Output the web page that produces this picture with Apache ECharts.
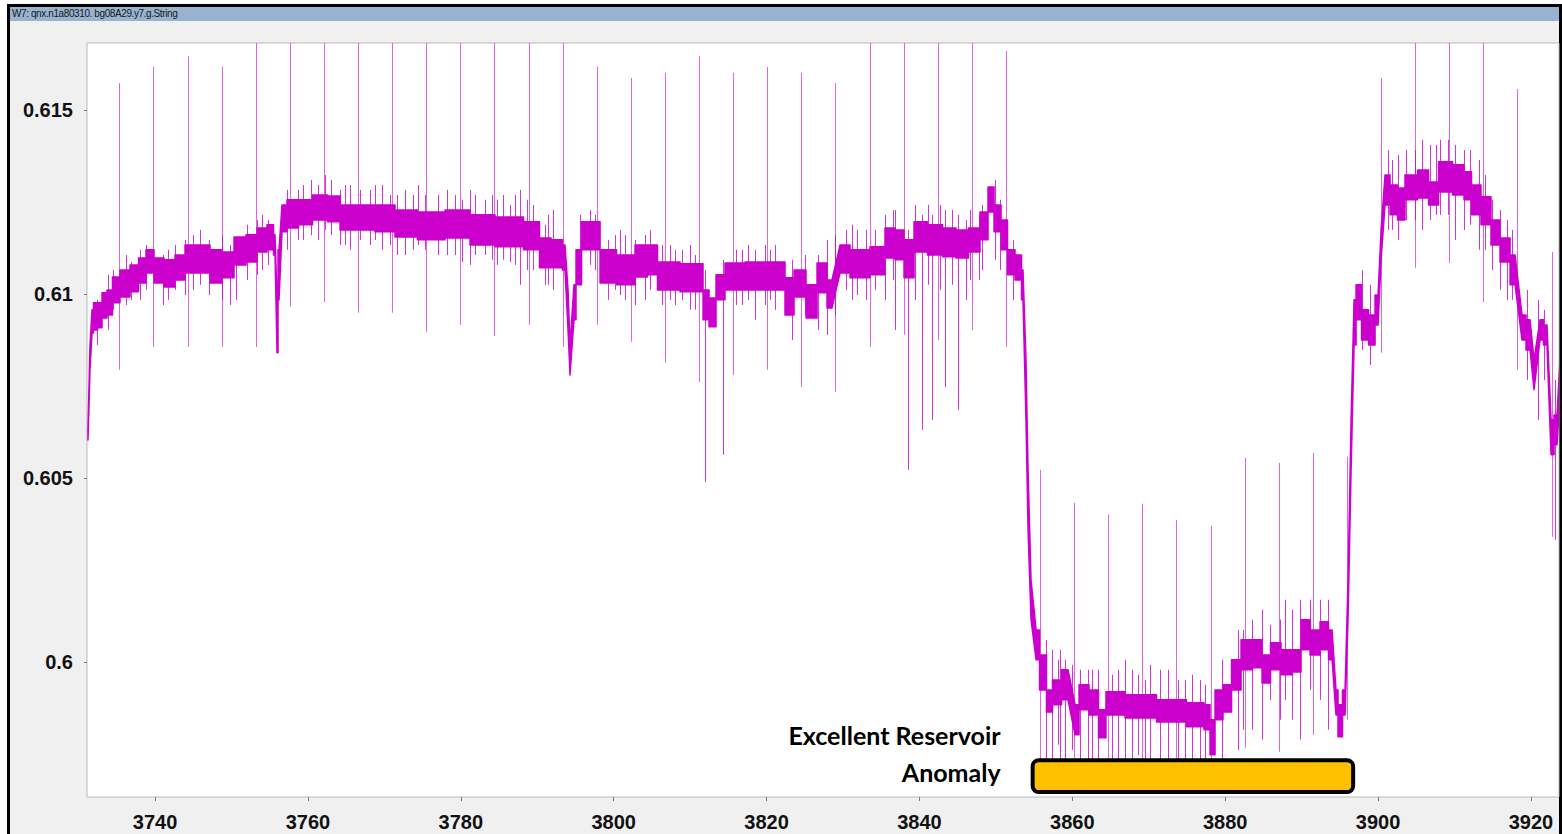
<!DOCTYPE html>
<html><head><meta charset="utf-8">
<script src="https://cdn.jsdelivr.net/npm/echarts@6/dist/echarts.min.js"></script>
<style>
html,body{margin:0;padding:0;background:#fff;width:1562px;height:834px;overflow:hidden}
#frame{position:absolute;left:7px;top:4px;width:1549px;height:840px;border-left:3px solid #000;border-top:3px solid #000;border-right:3px solid #000;background:#f0f0f0}
#titlebar{position:absolute;left:0;top:0;width:100%;height:14px;background:#97b3d0;font:10px "Liberation Sans",Arial,sans-serif;letter-spacing:-0.4px;color:#1a1a1a;line-height:14px;padding-left:2px;box-sizing:border-box;white-space:nowrap}
#chart{position:absolute;left:0;top:0;width:1562px;height:834px}
</style></head>
<body>
<div id="frame"><div id="titlebar">W7: qnx.n1a80310. bg08A29.y7.g.String</div></div>
<div id="chart"></div>
<script>
// ---- axis ticks ----
const xTicks = [3740,3760,3780,3800,3820,3840,3860,3880,3900,3920];
const xTickLabels = ['3740','3760','3780','3800','3820','3840','3860','3880','3900','3920'];
const yTicks = [0.6,0.605,0.61,0.615];
const yTickLabels = ['0.6','0.605','0.61','0.615'];

// ---- dense signal band: depth, lower and upper envelope ----
const bandDepth = [3731.23,3731.49,3731.76,3732.15,3732.80,3733.33,3734.11,3734.76,3736.07,3737.38,3738.30,3739.34,3740.39,3741.96,3743.27,3744.58,3746.54,3747.85,3749.55,3751.12,3752.69,3754.00,3755.30,3755.70,3755.96,3756.22,3756.61,3757.92,3759.62,3761.58,3763.55,3764.86,3767.47,3770.09,3772.70,3775.97,3779.90,3782.51,3786.44,3789.97,3790.63,3792.98,3793.63,3794.03,3794.29,3794.81,3795.34,3796.25,3797.83,3798.61,3802.14,3803.45,3805.41,3806.06,3811.30,3812.08,3812.87,3813.91,3815.22,3819.15,3822.02,3822.81,3824.38,3825.95,3827.26,3828.56,3829.61,3832.23,3834.84,3836.15,3837.46,3838.51,3840.08,3842.04,3844.00,3845.57,3847.27,3848.58,3849.37,3850.15,3851.20,3851.85,3853.16,3853.55,3853.94,3854.21,3854.60,3855.26,3856.17,3857.08,3857.74,3859.44,3860.36,3861.40,3862.97,3863.88,3864.93,3868.86,3873.17,3876.71,3877.75,3878.28,3879.06,3880.37,3881.29,3882.86,3884.30,3885.34,3886.52,3888.09,3889.40,3890.45,3891.76,3893.06,3893.98,3894.50,3895.02,3895.68,3896.07,3896.47,3896.86,3897.38,3898.30,3899.21,3900.00,3900.39,3900.91,3902.22,3902.87,3904.18,3906.14,3907.06,3908.76,3910.72,3911.77,3912.68,3914.25,3915.30,3916.61,3917.92,3918.83,3919.88,3920.40,3921.19,3922.10,3922.63,3923.41,3923.80];
const bandLow = [0.60603,0.60794,0.60894,0.60902,0.60908,0.60935,0.60943,0.60976,0.60992,0.61006,0.61030,0.61057,0.61030,0.61019,0.61038,0.61057,0.61057,0.61030,0.61044,0.61079,0.61087,0.61114,0.61120,0.61106,0.60840,0.60984,0.61169,0.61179,0.61188,0.61201,0.61196,0.61174,0.61174,0.61169,0.61155,0.61147,0.61152,0.61133,0.61128,0.61120,0.61071,0.61071,0.61065,0.60902,0.60780,0.60930,0.61025,0.61120,0.61120,0.61030,0.61025,0.61046,0.61052,0.61011,0.61006,0.60930,0.60911,0.60984,0.61011,0.61011,0.61011,0.60943,0.60992,0.60935,0.61003,0.60962,0.61057,0.61044,0.61052,0.61098,0.61093,0.61044,0.61114,0.61106,0.61101,0.61098,0.61114,0.61147,0.61223,0.61169,0.61120,0.61052,0.61038,0.60984,0.60658,0.60359,0.60115,0.60006,0.59924,0.59864,0.59884,0.59897,0.59802,0.59870,0.59856,0.59794,0.59856,0.59848,0.59837,0.59824,0.59816,0.59748,0.59843,0.59864,0.59924,0.59979,0.59984,0.59943,0.59979,0.59965,0.59973,0.60033,0.60019,0.60033,0.60006,0.59856,0.59797,0.59856,0.60115,0.60522,0.60861,0.60930,0.60875,0.60861,0.60916,0.61093,0.61242,0.61215,0.61201,0.61256,0.61261,0.61242,0.61277,0.61269,0.61256,0.61215,0.61188,0.61133,0.61087,0.61025,0.60875,0.60848,0.60740,0.60875,0.60861,0.60563,0.60590,0.60726];
const bandHigh = [0.60631,0.60861,0.60957,0.60976,0.60976,0.61003,0.61011,0.61046,0.61065,0.61079,0.61098,0.61120,0.61098,0.61093,0.61106,0.61133,0.61133,0.61120,0.61114,0.61155,0.61161,0.61179,0.61188,0.61161,0.60984,0.61120,0.61242,0.61256,0.61256,0.61269,0.61266,0.61242,0.61242,0.61242,0.61228,0.61223,0.61228,0.61215,0.61209,0.61196,0.61152,0.61147,0.61133,0.61011,0.60861,0.61025,0.61120,0.61196,0.61196,0.61120,0.61106,0.61133,0.61133,0.61087,0.61082,0.61011,0.60989,0.61052,0.61084,0.61087,0.61087,0.61044,0.61065,0.61025,0.61084,0.61038,0.61133,0.61120,0.61128,0.61179,0.61174,0.61147,0.61196,0.61188,0.61179,0.61174,0.61179,0.61223,0.61291,0.61242,0.61201,0.61120,0.61106,0.61065,0.60821,0.60522,0.60223,0.60087,0.60019,0.59924,0.59951,0.59979,0.59884,0.59938,0.59924,0.59870,0.59919,0.59911,0.59897,0.59889,0.59884,0.59843,0.59924,0.59938,0.60006,0.60060,0.60060,0.60019,0.60052,0.60033,0.60033,0.60115,0.60087,0.60109,0.60087,0.59924,0.59884,0.59924,0.60223,0.60658,0.60984,0.61025,0.60957,0.60943,0.60997,0.61174,0.61323,0.61296,0.61288,0.61323,0.61337,0.61304,0.61359,0.61351,0.61332,0.61296,0.61264,0.61201,0.61152,0.61106,0.60943,0.60930,0.60821,0.60930,0.60916,0.60658,0.60671,0.60821];

// ---- short noise hairs around the band: depth, low, high ----
const hairDepth = [3732.41,3733.85,3734.50,3736.20,3736.86,3738.82,3741.06,3741.70,3742.61,3744.97,3745.88,3747.06,3749.81,3750.59,3752.03,3754.00,3754.78,3758.70,3759.36,3760.41,3763.02,3764.20,3765.51,3768.12,3768.78,3771.66,3773.75,3774.40,3777.02,3778.20,3781.21,3781.86,3783.17,3785.52,3787.09,3787.75,3789.45,3791.41,3792.07,3796.91,3799.26,3800.18,3800.83,3804.11,3804.76,3807.37,3808.03,3809.99,3811.95,3814.30,3816.79,3817.57,3818.49,3821.11,3823.33,3826.73,3827.92,3830.40,3831.18,3834.19,3835.50,3836.81,3838.51,3839.42,3840.34,3841.65,3843.35,3845.05,3846.10,3847.80,3849.89,3850.54,3852.25,3856.56,3857.35,3858.39,3859.04,3861.01,3862.06,3863.37,3865.98,3866.90,3867.81,3870.17,3871.47,3872.52,3874.74,3875.66,3876.71,3879.58,3881.68,3883.51,3884.82,3887.83,3888.74,3889.79,3892.41,3893.45,3897.90,3898.95,3901.30,3902.61,3903.66,3905.75,3906.80,3908.10,3910.07,3911.24,3913.21,3914.91,3915.95,3917.52,3919.49,3920.92,3921.71,3923.15,
  3738.04,3743.92,3748.76,3753.34,3757.27,3761.32,3762.24,3764.86,3766.82,3769.70,3770.74,3772.70,3775.32,3779.25,3780.16,3784.08,3784.74,3786.44,3788.66,3791.02,3795.60,3797.56,3801.48,3802.79,3806.33,3808.94,3810.64,3816.01,3819.80,3820.45,3825.03,3828.96,3831.83,3833.01,3836.55,3841.13,3842.70,3844.26,3846.62,3848.19,3858.13,3859.96,3862.58,3865.19,3868.60,3869.51,3873.83,3877.36,3882.33,3885.86,3887.17,3891.10,3901.82,3904.83,3907.58,3909.15,3912.03,3914.00,3916.87];
const hairLow = [0.60861,0.60902,0.60957,0.60970,0.60984,0.61011,0.60970,0.60984,0.61011,0.61011,0.61025,0.60997,0.60970,0.60984,0.61038,0.61065,0.61079,0.61147,0.61147,0.61160,0.61160,0.61133,0.61120,0.61133,0.61147,0.61106,0.61120,0.61133,0.61106,0.61106,0.61079,0.61106,0.61106,0.61093,0.61079,0.61025,0.61065,0.61025,0.61011,0.61079,0.60984,0.61011,0.60997,0.60984,0.61011,0.60984,0.60970,0.60957,0.60489,0.60563,0.60970,0.60984,0.60930,0.60957,0.60875,0.60902,0.60889,0.61011,0.60984,0.61011,0.60984,0.60902,0.60522,0.60984,0.60631,0.60658,0.60747,0.60685,0.60984,0.61038,0.61093,0.61065,0.60984,0.59707,0.59652,0.59734,0.59707,0.59666,0.59720,0.59652,0.59734,0.59693,0.59734,0.59707,0.59693,0.59680,0.59693,0.59707,0.59666,0.59652,0.59761,0.59816,0.59789,0.59897,0.59843,0.59789,0.59897,0.59816,0.60848,0.60807,0.61174,0.61147,0.61201,0.61174,0.61201,0.61215,0.61147,0.61174,0.61120,0.61065,0.61011,0.60984,0.60766,0.60658,0.60766,0.60332,
  0.60984,0.60997,0.60984,0.61052,0.61120,0.61147,0.61174,0.61133,0.61147,0.61120,0.61133,0.61106,0.61120,0.61106,0.61087,0.61093,0.61079,0.61087,0.61065,0.61025,0.61065,0.61065,0.60984,0.60970,0.60970,0.60984,0.60957,0.60970,0.60970,0.60984,0.60943,0.60943,0.60997,0.60984,0.61038,0.61025,0.61011,0.61025,0.61038,0.61065,0.59775,0.59761,0.59734,0.59734,0.59747,0.59734,0.59720,0.59707,0.59816,0.59897,0.59843,0.59924,0.61174,0.61201,0.61215,0.61215,0.61188,0.61120,0.60984];
const hairHigh = [0.60984,0.61052,0.61065,0.61106,0.61087,0.61133,0.61106,0.61120,0.61133,0.61160,0.61174,0.61147,0.61133,0.61147,0.61188,0.61215,0.61201,0.61283,0.61296,0.61310,0.61310,0.61283,0.61296,0.61283,0.61296,0.61269,0.61269,0.61296,0.61269,0.61283,0.61283,0.61269,0.61256,0.61269,0.61269,0.61283,0.61242,0.61215,0.61228,0.61228,0.61147,0.61160,0.61174,0.61160,0.61174,0.61133,0.61120,0.61133,0.61065,0.61093,0.61120,0.61133,0.61120,0.61133,0.61093,0.61106,0.61147,0.61174,0.61188,0.61174,0.61215,0.61228,0.61174,0.61242,0.61215,0.61215,0.61228,0.61215,0.61201,0.61215,0.61310,0.61256,0.61147,0.60060,0.60033,0.60033,0.60006,0.59979,0.59979,0.59979,0.59979,0.60006,0.59979,0.59992,0.59979,0.59979,0.59951,0.59965,0.59951,0.60006,0.60087,0.60115,0.60142,0.60169,0.60142,0.60169,0.60169,0.60169,0.61065,0.61025,0.61391,0.61378,0.61391,0.61419,0.61405,0.61419,0.61405,0.61391,0.61364,0.61256,0.61228,0.61174,0.61011,0.60984,0.60957,0.60766,
  0.61120,0.61147,0.61160,0.61201,0.61283,0.61296,0.61323,0.61296,0.61283,0.61296,0.61269,0.61283,0.61269,0.61269,0.61256,0.61269,0.61256,0.61242,0.61256,0.61188,0.61215,0.61215,0.61160,0.61147,0.61133,0.61120,0.61106,0.61120,0.61133,0.61120,0.61106,0.61160,0.61174,0.61174,0.61228,0.61242,0.61242,0.61228,0.61228,0.61242,0.60006,0.59992,0.59979,0.59965,0.59965,0.59951,0.59951,0.59938,0.60087,0.60101,0.60115,0.60169,0.61364,0.61391,0.61405,0.61419,0.61391,0.61323,0.61201];

// ---- periodic tall spikes: depth, low, high ----
const spikeDepth = [3735.33,3739.79,3744.25,3748.71,3753.17,3757.64,3762.10,3766.56,3771.02,3775.48,3779.94,3784.40,3788.86,3793.32,3797.79,3802.25,3806.71,3811.17,3815.63,3820.09,3824.55,3829.01,3833.47,3837.94,3842.40,3846.86,3851.32,3855.78,3860.24,3864.70,3869.16,3873.62,3878.09,3882.55,3887.01,3891.47,3895.93,3900.39,3904.85,3909.31,3913.77,3918.23,3922.70];
const spikeLow = [0.60794,0.60856,0.60856,0.60856,0.60856,0.60965,0.60978,0.60949,0.60949,0.60897,0.60916,0.60886,0.60916,0.60856,0.60916,0.60870,0.60813,0.60761,0.60780,0.60794,0.60747,0.60734,0.60856,0.60889,0.60875,0.60902,0.60856,0.59666,0.59666,0.59666,0.59666,0.59666,0.59666,0.59767,0.59756,0.59802,0.59843,0.60840,0.61071,0.61084,0.60978,0.60794,0.60340];
const spikeHigh = [0.61573,0.61617,0.61647,0.61617,0.6175,0.6175,0.6175,0.6175,0.6175,0.6175,0.6175,0.6175,0.6175,0.6175,0.61617,0.61587,0.61601,0.61647,0.61601,0.61617,0.61601,0.61573,0.6175,0.6175,0.6175,0.6175,0.61660,0.60522,0.60432,0.60400,0.60430,0.60386,0.60370,0.60555,0.60541,0.60568,0.60558,0.61587,0.6175,0.6175,0.6175,0.61557,0.61114];

// ---- annotation bar: depth range and value range ----
const anomalyDepth = [3854.55, 3897.0];
const anomalyValue = [0.59641, 0.59738];
const anomalyText = ['Excellent Reservoir', 'Anomaly'];

const BAND = '#cc00cc';
const chart = echarts.init(document.getElementById('chart'), null, {renderer:'svg'});

function clampY(y, cs){ return Math.max(cs.y, Math.min(cs.y + cs.height, y)); }
function vline(params, api, color){
  const cs = params.coordSys;
  const a = api.coord([api.value(0), api.value(1)]);
  const b = api.coord([api.value(0), api.value(2)]);
  const x = Math.round(a[0]) + 0.5;
  return {type:'line', shape:{x1:x, y1:clampY(a[1],cs), x2:x, y2:clampY(b[1],cs)},
          style:{stroke:color, lineWidth:1}};
}
// envelope outline: held steps where neighbouring samples overlap, direct joins on steep moves
function envelope(api){
  const n = bandDepth.length;
  const up = [api.coord([bandDepth[0], bandHigh[0]])];
  const lo = [api.coord([bandDepth[0], bandLow[0]])];
  for(let i=1;i<n;i++){
    const j=i-1;
    const overlap = bandLow[i] <= bandHigh[j] && bandLow[j] <= bandHigh[i];
    if(overlap){
      const m=(bandDepth[i]+bandDepth[j])/2;
      up.push(api.coord([m, bandHigh[j]]), api.coord([m, bandHigh[i]]));
      lo.push(api.coord([m, bandLow[j]]), api.coord([m, bandLow[i]]));
    }
    up.push(api.coord([bandDepth[i], bandHigh[i]]));
    lo.push(api.coord([bandDepth[i], bandLow[i]]));
  }
  return up.concat(lo.reverse());
}

const spikeData = spikeDepth.map((d,i)=>[d, spikeLow[i], spikeHigh[i]]);
const hairData = hairDepth.map((d,i)=>[d, hairLow[i], hairHigh[i]]);

chart.setOption({
  backgroundColor:'transparent',
  animation:false,
  grid:{left:87, top:43, right:3, bottom:37, show:true, backgroundColor:'#ffffff', borderColor:'#b9b9b9', borderWidth:1},
  xAxis:{type:'value', min:3731.1, max:3923.67,
    axisLine:{show:false}, splitLine:{show:false},
    axisTick:{show:true, customValues:xTicks, length:4, lineStyle:{color:'#777'}},
    axisLabel:{customValues:xTicks, margin:15, color:'#111', fontSize:20, fontWeight:'bold', fontFamily:'Liberation Sans, Arial, sans-serif',
      formatter:(v)=>xTickLabels[xTicks.indexOf(v)] ?? String(v)}},
  yAxis:{type:'value', min:0.59633, max:0.61682,
    axisLine:{show:false}, splitLine:{show:false},
    axisTick:{show:true, customValues:yTicks, length:3, lineStyle:{color:'#777'}},
    axisLabel:{customValues:yTicks, margin:14, color:'#111', fontSize:20, fontWeight:'bold', fontFamily:'Liberation Sans, Arial, sans-serif',
      formatter:(v)=>{let i=yTicks.findIndex(t=>Math.abs(t-v)<1e-9); return i>=0?yTickLabels[i]:String(v);}}},
  series:[
    {type:'custom', name:'spikes', clip:true, z:2, data:spikeData, encode:{x:0, y:[1,2]},
      renderItem:(p,api)=>vline(p,api,'rgba(204,0,204,0.6)')},
    {type:'custom', name:'hairs', clip:true, z:3, data:hairData, encode:{x:0, y:[1,2]},
      renderItem:(p,api)=>vline(p,api,'rgba(204,0,204,0.8)')},
    {type:'custom', name:'band', clip:true, z:4, data:[[bandDepth[0], bandLow[0]]], encode:{x:0, y:1},
      renderItem:(params, api)=>({type:'polygon', shape:{points:envelope(api)}, style:{fill:BAND, stroke:BAND, lineWidth:1.5, lineJoin:'round'}})},
    {type:'custom', name:'anomaly', z:10, data:[[anomalyDepth[0], anomalyDepth[1], anomalyValue[0], anomalyValue[1]]],
      encode:{x:[0,1], y:[2,3]},
      renderItem:(params, api)=>{
        const p0 = api.coord([api.value(0), api.value(3)]);
        const p1 = api.coord([api.value(1), api.value(2)]);
        const lw = 4;
        return {type:'group', children:[
          {type:'rect', shape:{x:p0[0]+lw/2, y:p0[1]+lw/2, width:p1[0]-p0[0]-lw, height:p1[1]-p0[1]-lw, r:6},
            style:{fill:'#ffc000', stroke:'#000', lineWidth:lw}},
          {type:'text', x:p0[0]-30, y:p0[1]-23, style:{text:anomalyText[0], align:'right', verticalAlign:'middle',
            font:'bold 25px Lato, "Open Sans", sans-serif', fill:'#000'}},
          {type:'text', x:p0[0]-30, y:p0[1]+14, style:{text:anomalyText[1], align:'right', verticalAlign:'middle',
            font:'bold 25px Lato, "Open Sans", sans-serif', fill:'#000'}}
        ]};
      }}
  ]
});
</script>
</body></html>
